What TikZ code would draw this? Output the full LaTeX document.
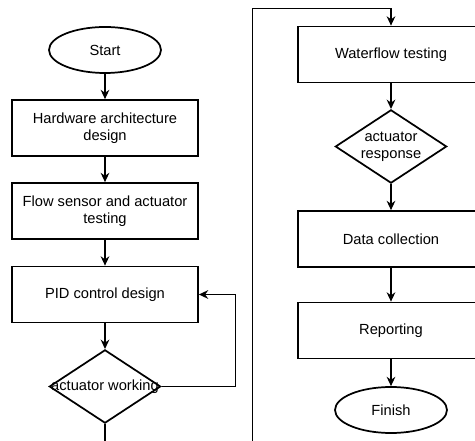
\documentclass[tikz,border=0pt]{standalone}
\usepackage{fontspec}
\setmainfont{Liberation Sans}
\usepackage{tikz}
\usetikzlibrary{shapes.geometric, arrows.meta, positioning}

\tikzset{
    process/.style={draw, line width=1.3pt, rectangle, minimum width=139.5pt, minimum height=42pt,
        text width=128pt, inner sep=0pt, align=flush center},
    terminal/.style={draw, line width=1.3pt, ellipse, minimum width=84pt, minimum height=34.5pt, inner sep=0pt},
    decision/.style={draw, line width=1.3pt, diamond, minimum width=83.5pt, minimum height=55pt, inner sep=0pt},
    flowarrow/.style={-{Stealth[length=7pt, width=6.5pt]}, line width=1.3pt},
    flowline/.style={line width=1.3pt}
}

\begin{document}
\begin{tikzpicture}[x=0.75pt, y=-0.75pt, font=\fontsize{11}{13}\selectfont]
    \useasboundingbox (0,0) rectangle (475,441);
    \clip (0,0) rectangle (475,441);

    % LEFT: design steps
    \node[terminal] (start) at (105,50) {Start};
    \node[process] (hwdesign) at (105,128) {Hardware architecture design};
    \node[process] (sensortest) at (105,211) {Flow sensor and actuator testing};
    \node[process] (piddesign) at (105,294.5) {PID control design};
    \node[decision, label={center:actuator working}] (working) at (105,386.5) {};

    \draw[flowarrow] (start) -- (hwdesign);
    \draw[flowarrow] (hwdesign) -- (sensortest);
    \draw[flowarrow] (sensortest) -- (piddesign);
    \draw[flowarrow] (piddesign) -- (working);
    % back to PID design
    \draw[flowarrow] (working.east) -- ++(74,0) |- (piddesign.east);

    % continues into the right column
    \coordinate (leftout) at (105,450);
    \coordinate (rightin) at (252.5,450);
    \coordinate (turn) at (252.5,8.5);
    \draw[flowline] (working.south) -- (leftout);

    % RIGHT: testing and reporting
    \node[process] (waterflow) at (391,54.5) {Waterflow testing};
    \node[decision, label={[align=center]center:actuator\\response}] (response) at (391,146.5) {};
    \node[process] (datacoll) at (391,239) {Data collection};
    \node[process] (reporting) at (391,330.5) {Reporting};
    \node[terminal] (finish) at (391,410) {Finish};

    \draw[flowarrow] (rightin) -- (turn) -| (waterflow.north);
    \draw[flowarrow] (waterflow) -- (response);
    \draw[flowarrow] (response) -- (datacoll);
    \draw[flowarrow] (datacoll) -- (reporting);
    \draw[flowarrow] (reporting) -- (finish);

\end{tikzpicture}
\end{document}
